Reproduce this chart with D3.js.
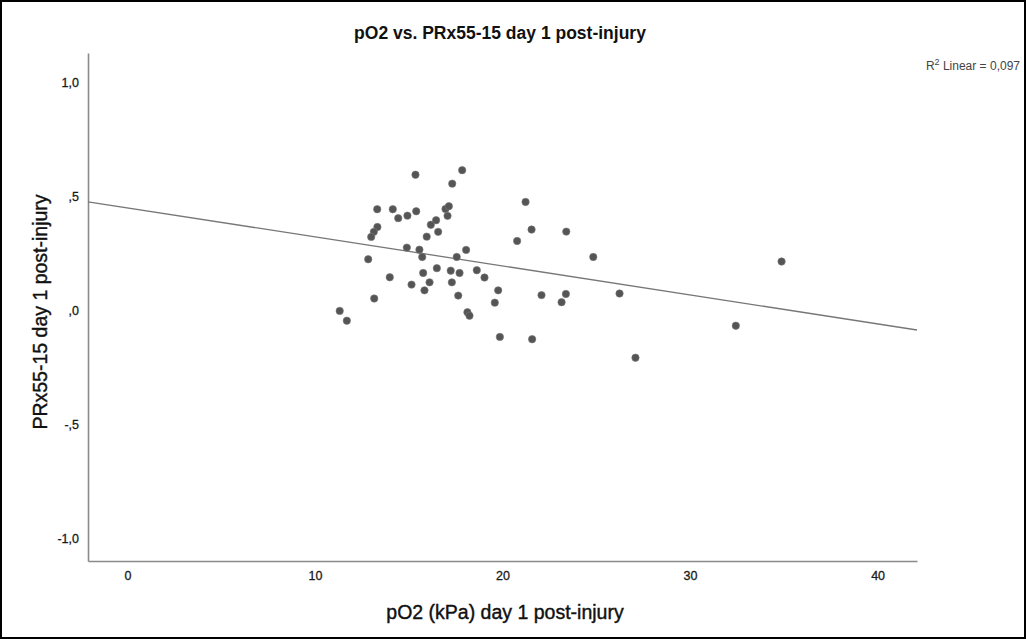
<!DOCTYPE html>
<html><head><meta charset="utf-8">
<script src="https://cdn.jsdelivr.net/npm/d3@7"></script>
<style>html,body{margin:0;padding:0;background:#fff;}svg{display:block;}</style>
</head><body>
<script>
const pO2 = [15.36,17.85,17.32,21.23,13.32,14.15,14.44,14.93,15.40,16.96,17.14,17.07,16.46,16.18,16.57,15.96,13.33,13.14,13.00,21.55,20.78,14.90,15.57,15.72,17.56,18.06,12.84,16.50,17.24,17.71,18.63,19.04,15.77,13.99,16.11,15.15,17.30,15.84,19.77,19.59,17.64,13.16,22.08,23.15,11.32,11.70,18.13,18.24,19.86,21.58,23.40,24.84,23.38,26.24,27.09,32.44,34.88];
const prx = [0.594,0.614,0.555,0.475,0.443,0.443,0.404,0.415,0.434,0.444,0.456,0.414,0.395,0.375,0.344,0.323,0.365,0.344,0.322,0.354,0.304,0.275,0.266,0.234,0.234,0.265,0.224,0.185,0.174,0.164,0.176,0.144,0.164,0.145,0.123,0.113,0.123,0.088,0.088,0.034,0.065,0.052,0.067,0.036,-0.002,-0.045,-0.008,-0.023,-0.116,-0.126,0.345,0.234,0.072,0.074,-0.207,-0.067,0.214];
const xTicks = [0,10,20,30,40];
const yTicks = [-1.0,-0.5,0.0,0.5,1.0];
const yTickLabels = ["-1,0","-,5",",0",",5","1,0"];
const fitIntercept = 0.449, fitSlope = -0.0127;
const titleText = "pO2 vs. PRx55-15 day 1 post-injury";
const xTitle = "pO2 (kPa) day 1 post-injury";
const yTitle = "PRx55-15 day 1 post-injury";

const W = 1026, H = 639;
const svg = d3.select("body").append("svg").attr("width", W).attr("height", H);
svg.append("rect").attr("x",1).attr("y",1).attr("width",W-2).attr("height",H-2)
  .attr("fill","#fff").attr("stroke","#000").attr("stroke-width",2);

const x = d3.scaleLinear().domain([-2.1, 42.1]).range([88, 917]);
const y = d3.scaleLinear().domain([-1.097, 1.127]).range([561, 53]);
const font = "'Liberation Sans', Arial, sans-serif";

// axes
const xAxis = svg.append("g").attr("transform","translate(0,561)")
  .call(d3.axisBottom(x).tickValues(xTicks).tickSize(0).tickPadding(10).tickFormat(d3.format("d")));
const yAxis = svg.append("g").attr("transform","translate(88,0)")
  .call(d3.axisLeft(y).tickValues(yTicks).tickSize(0).tickPadding(9).tickFormat((d,i)=>yTickLabels[i]));
[xAxis,yAxis].forEach(g=>{
  g.select(".domain").attr("stroke","#8a8a8a").attr("stroke-width",1.6);
  g.selectAll("text").attr("font-family",font).attr("font-size",12.5).attr("fill","#1a1a1a")
    .attr("stroke","#1a1a1a").attr("stroke-width",0.3);
});

// regression line
const xd = x.domain();
svg.append("line")
  .attr("x1", x(xd[0])).attr("y1", y(fitIntercept + fitSlope*xd[0]))
  .attr("x2", x(xd[1])).attr("y2", y(fitIntercept + fitSlope*xd[1]))
  .attr("stroke","#777").attr("stroke-width",1.3);

// points
svg.append("g").selectAll("circle").data(pO2.map((v,i)=>[v,prx[i]])).join("circle")
  .attr("cx",d=>x(d[0])).attr("cy",d=>y(d[1])).attr("r",3.7)
  .attr("fill","#555").attr("stroke","#777").attr("stroke-width",0.6);

// titles
svg.append("text").attr("x",500).attr("y",39).attr("text-anchor","middle")
  .attr("font-family",font).attr("font-size",17.5).attr("font-weight","bold").attr("fill","#111").text(titleText);
svg.append("text").attr("x",505).attr("y",619).attr("text-anchor","middle")
  .attr("font-family",font).attr("font-size",19.5).attr("fill","#111").attr("stroke","#111").attr("stroke-width",0.4).text(xTitle);
svg.append("text").attr("transform","translate(47,312) rotate(-90)").attr("text-anchor","middle")
  .attr("font-family",font).attr("font-size",19.5).attr("fill","#111").attr("stroke","#111").attr("stroke-width",0.4).text(yTitle);

const r2 = svg.append("text").attr("x",1020).attr("y",70).attr("text-anchor","end")
  .attr("font-family",font).attr("font-size",12).attr("fill","#444");
r2.append("tspan").text("R");
r2.append("tspan").attr("dy",-5).attr("font-size",9).text("2");
r2.append("tspan").attr("dy",5).text(" Linear = 0,097");
</script>
</body></html>
